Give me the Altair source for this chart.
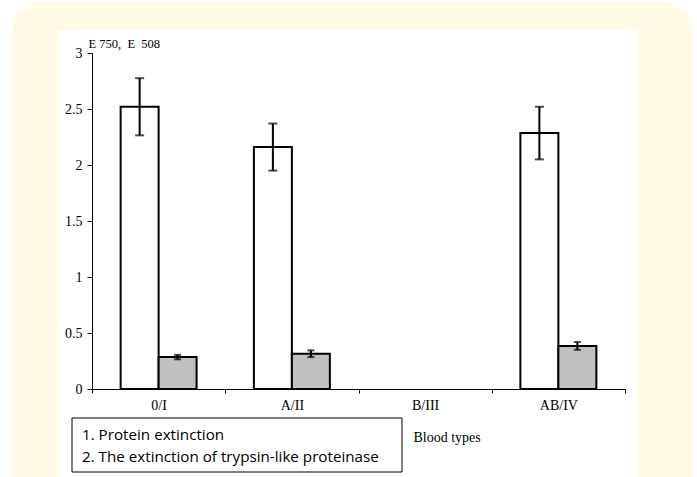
import altair as alt
import pandas as pd

categories = ["0/I", "A/II", "B/III", "AB/IV"]
series = ["1. Protein extinction", "2. The extinction of trypsin-like proteinase"]
protein = [2.52, 2.16, None, 2.285]
protein_err = [0.255, 0.21, None, 0.235]
trypsin = [0.285, 0.315, None, 0.385]
trypsin_err = [0.02, 0.03, None, 0.035]
y_ticks = [0, 0.5, 1, 1.5, 2, 2.5, 3]
y_title = "E 750,\u00a0\u00a0E\u00a0 508"
x_title = "Blood types"

rows = []
for i, c in enumerate(categories):
    for s, vals, errs in ((series[0], protein, protein_err), (series[1], trypsin, trypsin_err)):
        if vals[i] is None:
            continue
        rows.append({"cat": c, "series": s, "value": vals[i],
                     "lo": vals[i] - errs[i], "hi": vals[i] + errs[i]})
df = pd.DataFrame(rows)

W, H = 533, 336
serif = "Liberation Serif"

x_enc = alt.X("cat:N", scale=alt.Scale(domain=categories, paddingInner=0, paddingOuter=0),
              axis=alt.Axis(title=x_title, labelAngle=0, tickBand="extent", tickSize=4,
                            labelPadding=5, domainColor="#000", tickColor="#000",
                            titleX=321, titleY=48, titleAlign="left", titleBaseline="middle",
                            titleFont=serif, titleFontSize=14, titleFontWeight="normal",
                            titleColor="#000", zindex=1))
xo_enc = alt.XOffset("series:N", scale=alt.Scale(domain=series, paddingOuter=0.754, paddingInner=0))
y_scale = alt.Scale(domain=[0, 3], nice=False)

bars = alt.Chart(df).mark_bar(stroke="#000", strokeWidth=2).encode(
    x=x_enc,
    xOffset=xo_enc,
    y=alt.Y("value:Q", scale=y_scale,
            axis=alt.Axis(values=y_ticks, format="~g", grid=False, tickSize=5, labelPadding=5,
                          domainColor="#000", tickColor="#000",
                          title=y_title, titleAngle=0, titleX=-4, titleY=-6,
                          titleAlign="left", titleBaseline="alphabetic",
                          titleFont=serif, titleFontSize=12.5, titleFontWeight="normal",
                          titleColor="#000", zindex=1)),
    fill=alt.Fill("series:N", scale=alt.Scale(domain=series, range=["#ffffff", "#c0c0c0"]), legend=None),
)

err = alt.Chart(df).mark_rule(color="#000", strokeWidth=2).encode(
    x="cat:N", xOffset="series:N", y=alt.Y("lo:Q", scale=y_scale), y2="hi:Q")

caps_lo = alt.Chart(df).mark_tick(color="#000", thickness=2).encode(
    x="cat:N", xOffset="series:N", y=alt.Y("lo:Q", scale=y_scale),
    size=alt.Size("series:N", scale=alt.Scale(domain=series, range=[9, 7]), legend=None))
caps_hi = alt.Chart(df).mark_tick(color="#000", thickness=2).encode(
    x="cat:N", xOffset="series:N", y=alt.Y("hi:Q", scale=y_scale),
    size=alt.Size("series:N", scale=alt.Scale(domain=series, range=[9, 7]), legend=None))

one = pd.DataFrame({"k": [0]})
cream = alt.Chart(one).mark_rect(fill="#fffae6", cornerRadius=30).encode(
    x=alt.value(-80), x2=alt.value(601), y=alt.value(-51), y2=alt.value(480))
panel = alt.Chart(one).mark_rect(fill="#ffffff").encode(
    x=alt.value(-34), x2=alt.value(545), y=alt.value(-23), y2=alt.value(480))

legend_box = alt.Chart(one).mark_rect(fill="#ffffff", stroke="#000", strokeWidth=1).encode(
    x=alt.value(-20), x2=alt.value(310), y=alt.value(365), y2=alt.value(419))
leg1 = alt.Chart(pd.DataFrame({"t": [series[0]]})).mark_text(
    align="left", baseline="middle", font="Open Sans", fontSize=15.2, color="#000").encode(
    text="t:N", x=alt.value(-10), y=alt.value(382))
leg2 = alt.Chart(pd.DataFrame({"t": [series[1]]})).mark_text(
    align="left", baseline="middle", font="Open Sans", fontSize=15.2, color="#000").encode(
    text="t:N", x=alt.value(-10), y=alt.value(404))

chart = alt.layer(cream, panel, bars, err, caps_lo, caps_hi, legend_box, leg1, leg2).properties(
    width=W, height=H,
    autosize=alt.AutoSizeParams(type="none"),
    padding={"left": 92, "top": 53, "right": 72, "bottom": 88},
    background="#ffffff",
).configure_view(stroke=None).configure_axis(
    labelFont=serif, labelFontSize=14, labelColor="#000", domainWidth=1, tickWidth=1,
)

chart.save("out.html", embed_options={"renderer": "svg", "actions": False})
